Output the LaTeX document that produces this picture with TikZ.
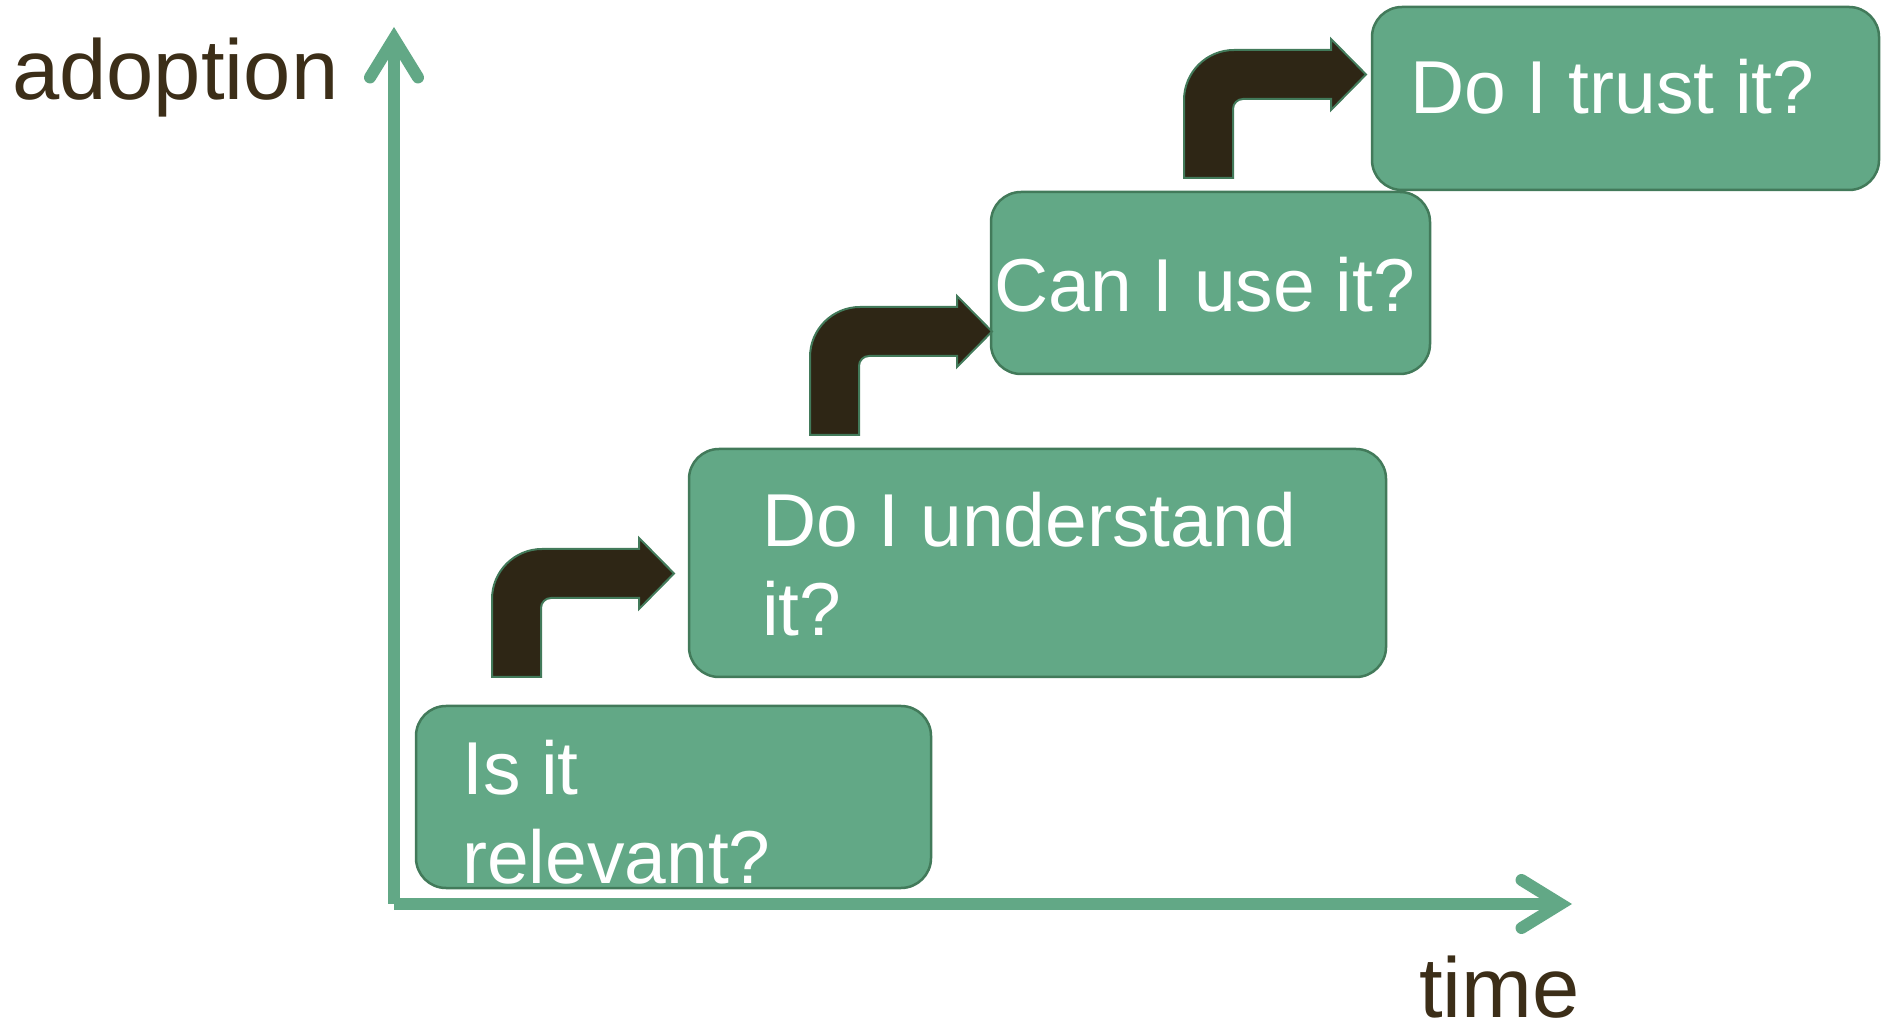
\documentclass[tikz,border=0pt]{standalone}
\usepackage{fontspec}
\setmainfont{Liberation Sans}
\usetikzlibrary{positioning}
\usetikzlibrary{calc}
\usetikzlibrary{arrows.meta}
\definecolor{stepgreen}{RGB}{98,168,134}
\definecolor{stepedge}{RGB}{66,122,90}
\definecolor{stepbrown}{RGB}{46,38,21}
\definecolor{labelbrown}{RGB}{60,46,24}

\begin{document}
\begin{tikzpicture}[x=1bp, y=1bp,
        QBOX/.style={rectangle, rounded corners=30bp, draw=stepedge, fill=stepgreen, line width=2.5bp, anchor=north west, inner sep=0, outer sep=0},
        QTEXT/.style={text=white, font=\fontsize{75bp}{89bp}\selectfont, align=left, anchor=base west, inner sep=0},
        AXIS/.style={draw=stepgreen, line width=12bp, -{Straight Barb[length=39bp, width=48bp, line cap=round, line join=miter]}},
        AXLABEL/.style={text=labelbrown, font=\fontsize{85bp}{100bp}\selectfont, anchor=base west, inner sep=0},
        bentarrow/.pic={
            \draw[draw=stepedge, fill=stepbrown, line width=2bp] (0,0) -- (0,78) arc[start angle=180, end angle=90, radius=50bp] -- (147,128) -- (147,139) -- (182,103.5) -- (147,68) -- (147,79) -- (59,79) arc[start angle=90, end angle=180, radius=10bp] -- (49,0) -- cycle;
        }]
        \useasboundingbox (0,0) rectangle (1881,1029);

        \coordinate (O) at (394,125);
        \coordinate (Ytip) at (394,1002);
        \coordinate (Xtip) at (1572,125);
        \draw[AXIS] (O) -- (Ytip);
        \draw[AXIS] (O) -- (Xtip);

        \node[AXLABEL] (ylab) at (12,929) {adoption};
        \node[AXLABEL] (xlab) at (1419,12) {time};

        \node[QBOX, minimum width=515bp, minimum height=182bp] (B1) at (416,323) {};
        \node[QBOX, minimum width=697bp, minimum height=228bp] (B2) at (689,580) {};
        \node[QBOX, minimum width=439bp, minimum height=182bp] (B3) at (991,837) {};
        \node[QBOX, minimum width=507bp, minimum height=183bp] (B4) at (1372,1022) {};

        \node[QTEXT] (T1) at ([xshift=46bp, yshift=-177bp] B1.north west) {Is it\\relevant?};
        \node[QTEXT] (T2) at ([xshift=73bp, yshift=-187bp] B2.north west) {Do I understand\\it?};
        \node[QTEXT] (T3) at ([xshift=3bp, yshift=-120bp] B3.north west) {Can I use it?};
        \node[QTEXT] (T4) at ([xshift=38bp, yshift=-107bp] B4.north west) {Do I trust it?};

        \pic (A1) at ([xshift=76bp, yshift=29bp] B1.north west) {bentarrow};
        \pic (A2) at ([xshift=121bp, yshift=14bp] B2.north west) {bentarrow};
        \pic (A3) at ([xshift=193bp, yshift=14bp] B3.north west) {bentarrow};
\end{tikzpicture}
\end{document}
